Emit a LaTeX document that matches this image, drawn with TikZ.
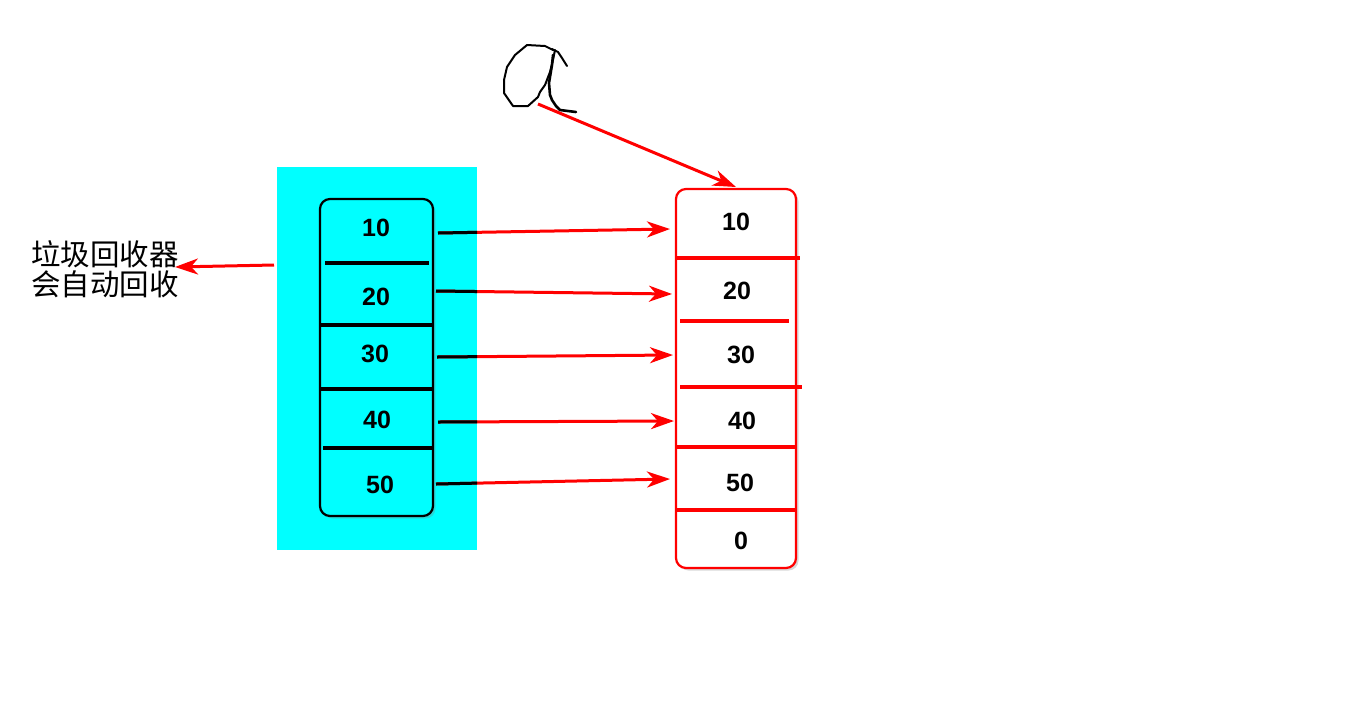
\documentclass[tikz,border=0pt]{standalone}
\usepackage{fontspec}
\setmainfont{Liberation Sans}
\newfontfamily\cjk{Noto Sans CJK SC}
\usetikzlibrary{arrows.meta,shadows}
\definecolor{aqua}{RGB}{0,255,255}
\definecolor{rd}{RGB}{255,0,0}
\begin{document}
\begin{tikzpicture}[x=1pt,y=-1pt,
  num/.style={font=\bfseries\fontsize{25}{29}\selectfont, inner sep=0pt},
  lbox/.style={draw=black, line width=2.2pt, fill=aqua, rounded corners=10pt,
     minimum width=113pt, minimum height=317pt, inner sep=0pt,
     drop shadow={opacity=0.3, shadow xshift=2.5pt, shadow yshift=-2.5pt}},
  rbox/.style={draw=rd, line width=2.2pt, fill=white, rounded corners=10pt,
     minimum width=120pt, minimum height=379pt, inner sep=0pt,
     drop shadow={opacity=0.3, shadow xshift=2.5pt, shadow yshift=-2.5pt}},
  bdiv/.style={draw=black, line width=3.2pt},
  rdiv/.style={draw=rd, line width=3.2pt},
  rarrow/.style={draw=rd, line width=3pt, -{Stealth[length=23pt,width=16pt,inset=7pt]}},
  hand/.style={draw=black, line width=2pt, line join=round, line cap=round}]
\useasboundingbox (0,0) rectangle (1359,713);
\fill[white] (0,0) rectangle (1359,713);
% cyan background
\node[fill=aqua, minimum width=200pt, minimum height=383pt, inner sep=0pt] (bg) at (377,358.5) {};
% left box
\node[lbox] (L) at (376.5,357.5) {};
\draw[bdiv] (325,263) -- (429,263);
\draw[bdiv] (320,325) -- (433,325);
\draw[bdiv] (320,389) -- (433,389);
\draw[bdiv] (323,448) -- (433,448);
\node[num] (l1) at (376,228) {10};
\node[num] (l2) at (376,297) {20};
\node[num] (l3) at (375,354) {30};
\node[num] (l4) at (377,420) {40};
\node[num] (l5) at (380,485) {50};
% right box
\node[rbox] (R) at (736,378.5) {};
\draw[rdiv] (676,258) -- (800,258);
\draw[rdiv] (680,321) -- (789,321);
\draw[rdiv] (680,387) -- (802,387);
\draw[rdiv] (676,447) -- (795,447);
\draw[rdiv] (677,510) -- (797,510);
\node[num] (r1) at (736,222) {10};
\node[num] (r2) at (737,291) {20};
\node[num] (r3) at (741,355) {30};
\node[num] (r4) at (742,421) {40};
\node[num] (r5) at (740,483) {50};
\node[num] (r6) at (741,541) {0};
% arrow end points
\coordinate (s1) at (438,233); \coordinate (e1) at (670,229);
\coordinate (s2) at (436,291); \coordinate (e2) at (672,294);
\coordinate (s3) at (437,357); \coordinate (e3) at (673,355);
\coordinate (s4) at (438,422); \coordinate (e4) at (674,421);
\coordinate (s5) at (436,484); \coordinate (e5) at (670,479);
\foreach \i in {1,...,5} {
  \draw[rarrow] (s\i) -- (e\i);
}
\begin{scope}
  \clip (bg.north west) rectangle (bg.south east);
  \foreach \i in {1,...,5} {
    \draw[black, line width=3pt] (s\i) -- (e\i);
  }
\end{scope}
% handwritten a
\draw[hand] (553,50) -- (545,46) -- (527,45) -- (515,55) -- (507,67) -- (504,80) -- (504,93) -- (513,106) -- (528,106) -- (538,97) -- (540,92) -- (545,85) -- (550,72) -- (553,60) -- (555,50);
\draw[hand] (552,49) -- (558,52) -- (562,58) -- (567,66);
\draw[hand, line width=2.6pt] (553,55) -- (552,65) -- (549,83) -- (550,95) -- (552,100) -- (556,106) -- (560,110) -- (576,112);
\coordinate (a) at (538,104);
\coordinate (atip) at (736,187);
\draw[rarrow] (a) -- (atip);
% left text and arrow
\node[font=\cjk\fontsize{29.5}{30}\selectfont, align=left, inner sep=0pt, anchor=west] (txt) at (31,269) {垃圾回收器\\会自动回收};
\coordinate (gstart) at (274,265);
\coordinate (gend) at (175,267);
\draw[rarrow] (gstart) -- (gend);
\end{tikzpicture}
\end{document}
